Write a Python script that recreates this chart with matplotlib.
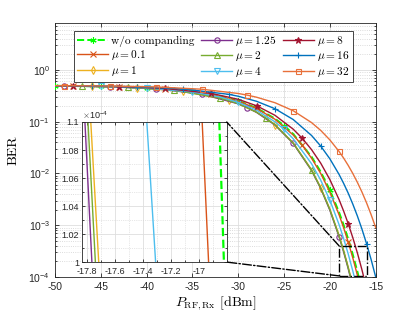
import math
import matplotlib
matplotlib.use("Agg")
import matplotlib.pyplot as plt
from matplotlib.font_manager import FontProperties
from matplotlib.patches import ConnectionPatch, Rectangle
from matplotlib.ticker import FixedLocator, LogLocator, NullFormatter, FuncFormatter, AutoMinorLocator

plt.rcParams['font.family'] = ['Liberation Sans', 'DejaVu Sans']
plt.rcParams['mathtext.fontset'] = 'cm'
plt.rcParams['axes.unicode_minus'] = False

# ---------------- data ----------------
labels = ['w/o companding', r'$\mu = 0.1$', r'$\mu = 1$', r'$\mu = 1.25$', r'$\mu = 2$',
          r'$\mu = 4$', r'$\mu = 8$', r'$\mu = 16$', r'$\mu = 32$']

x_wo = [-50, -45, -40, -35, -32, -30, -28, -26, -25, -24, -22, -21, -20, -19, -18.5, -18, -17.5, -17, -16.5, -16]
y_wo = [0.4927, 0.4812, 0.4523, 0.3849, 0.3140, 0.2526, 0.1835, 0.1148, 0.0841, 0.0577, 0.02098, 0.01075,
        0.004767, 1.780e-3, 1.008e-3, 5.40e-4, 2.71e-4, 1.274e-4, 5.53e-5, 2.21e-5]
mk_wo = [-50, -45, -40, -35, -30, -25, -20]

x_01 = [-50, -48, -43, -38, -33, -30, -28, -26, -24, -23, -22, -21, -20, -19, -18.5, -18, -17.5, -17, -16.5, -16]
y_01 = [0.4926, 0.4891, 0.4721, 0.4304, 0.3380, 0.2492, 0.1799, 0.1116, 0.0553, 0.0347, 0.01973, 0.00997,
        0.004356, 1.596e-3, 8.94e-4, 4.73e-4, 2.345e-4, 1.085e-4, 4.64e-5, 1.82e-5]
mk_01 = [-48, -43, -38, -33, -28, -23, -18]

x_1 = [-50, -46, -41, -36, -31, -30, -28, -26, -24, -22, -21, -20, -19, -18.5, -18, -17.5, -17]
y_1 = [0.4914, 0.4816, 0.4534, 0.3873, 0.2568, 0.2230, 0.1528, 0.0879, 0.0389, 0.01178, 0.00534,
       0.002046, 6.39e-4, 3.26e-4, 1.56e-4, 6.91e-5, 2.83e-5]
mk_1 = [-46, -41, -36, -31, -26, -21]

x_125 = [-50, -49, -44, -39, -34, -30, -29, -28, -26, -24, -22, -21, -20, -19, -18.5, -18, -17.5, -17]
y_125 = [0.4913, 0.4895, 0.4730, 0.4326, 0.3425, 0.2213, 0.1863, 0.1512, 0.0865, 0.0380, 0.01138, 0.00512,
         0.001942, 5.99e-4, 3.04e-4, 1.445e-4, 6.35e-5, 2.58e-5]
mk_125 = [-49, -44, -39, -34, -29, -24, -19]

x_2 = [-50, -47, -42, -37, -32, -30, -28, -27, -26, -24, -22, -21, -20, -19, -18.5, -18, -17.5, -17]
y_2 = [0.4914, 0.4847, 0.4611, 0.4047, 0.2879, 0.2223, 0.1522, 0.1183, 0.0873, 0.0385, 0.01162, 0.00525,
       0.00200, 6.22e-4, 3.17e-4, 1.51e-4, 6.67e-5, 2.72e-5]
mk_2 = [-47, -42, -37, -32, -27, -22, -17]

x_4 = [-50, -45, -40, -35, -32, -30, -28, -26, -25, -24, -22, -21, -20, -19, -18.5, -18, -17.5, -17, -16.5]
y_4 = [0.4920, 0.4794, 0.4479, 0.3753, 0.3002, 0.2364, 0.1665, 0.0996, 0.0708, 0.0468, 0.01543, 0.00741,
       0.00304, 1.032e-3, 5.53e-4, 2.79e-4, 1.31e-4, 5.72e-5, 2.29e-5]
mk_4 = [-45, -40, -35, -30, -25, -20]

x_8 = [-50, -48, -43, -38, -33, -30, -28, -26, -24, -23, -22, -21, -20, -19, -18.5, -18, -17.5, -17, -16.5, -16, -15.5]
y_8 = [0.4934, 0.4904, 0.4753, 0.4380, 0.3539, 0.2704, 0.2028, 0.1330, 0.0716, 0.0474, 0.02881, 0.01578,
       0.00760, 3.13e-3, 1.877e-3, 1.070e-3, 5.76e-4, 2.92e-4, 1.376e-4, 6.02e-5, 2.43e-5]
mk_8 = [-48, -43, -38, -33, -28, -23, -18]

x_16 = [-50, -46, -41, -36, -31, -30, -28, -26, -24, -22, -21, -20, -19, -18.5, -18, -17.5, -17, -16.5, -16, -15.5, -15]
y_16 = [0.4949, 0.4890, 0.4718, 0.4297, 0.3367, 0.3097, 0.2475, 0.1782, 0.1099, 0.0541, 0.0338, 0.01914,
        0.00959, 0.00643, 0.00416, 0.00256, 1.508e-3, 8.40e-4, 4.41e-4, 2.175e-4, 9.98e-5]
mk_16 = [-46, -41, -36, -31, -26, -21, -16]

x_32 = [-50, -49, -44, -39, -34, -30, -29, -28, -26, -24, -22, -21, -20, -19, -18.5, -18, -17.5, -17, -16.5, -16, -15.5, -15]
y_32 = [0.4962, 0.4954, 0.4880, 0.4694, 0.4239, 0.3504, 0.3251, 0.2967, 0.2326, 0.1625, 0.0960, 0.0678,
        0.0444, 0.0266, 0.0198, 0.0143, 0.00999, 0.00674, 0.00437, 0.00271, 0.00160, 9.0e-4]
mk_32 = [-49, -44, -39, -34, -29, -24, -19]

# inset (zoom) data: power at BER = 1.1e-4 and at BER = 1.0e-4
ins_ber = [1.1e-4, 1.0e-4]
ins_wo = [-16.853, -16.82]
ins_01 = [-16.976, -16.93]
ins_1 = [-17.775, -17.718]
ins_125 = [-17.817, -17.767]
ins_2 = [-17.795, -17.742]
ins_4 = [-17.373, -17.31]

x_ticks = [-50, -45, -40, -35, -30, -25, -20, -15]
y_ticks = [1e-4, 1e-3, 1e-2, 1e-1, 1e0]
ins_xticks = [-17.8, -17.6, -17.4, -17.2, -17.0]
ins_xticklabels = ['-17.8', '-17.6', '-17.4', '-17.2', '-17']
ins_yticks = [1.00e-4, 1.02e-4, 1.04e-4, 1.06e-4, 1.08e-4, 1.10e-4]
ins_yticklabels = ['1', '1.02', '1.04', '1.06', '1.08', '1.1']
zoom_box_x = [-19.0, -16.0]
zoom_box_y = [1.05e-4, 4.0e-4]

# ---------------- styles ----------------
C_WO = '#00FF00'
C_01 = '#D95319'
C_1 = '#EDB120'
C_125 = '#7E2F8E'
C_2 = '#77AC30'
C_4 = '#4DBEEE'
C_8 = '#A2142F'
C_16 = '#0072BD'
C_32 = '#E8703A'
ASTER = (6, 2, 0)

series = [
    (x_wo, y_wo, mk_wo, C_WO, '--', ASTER, 'none', 1.4, 4.5),
    (x_01, y_01, mk_01, C_01, '-', 'x', 'none', 1.0, 3.8),
    (x_1, y_1, mk_1, C_1, '-', 'd', 'none', 1.0, 3.8),
    (x_125, y_125, mk_125, C_125, '-', 'o', 'none', 1.0, 3.8),
    (x_2, y_2, mk_2, C_2, '-', '^', 'none', 1.0, 3.8),
    (x_4, y_4, mk_4, C_4, '-', 'v', 'none', 1.0, 3.8),
    (x_8, y_8, mk_8, C_8, '-', '*', C_8, 1.0, 4.8),
    (x_16, y_16, mk_16, C_16, '-', '+', 'none', 1.0, 4.8),
    (x_32, y_32, mk_32, C_32, '-', 's', 'none', 1.0, 3.6),
]

fig = plt.figure(figsize=(4.15, 3.12), dpi=100)
ax = fig.add_axes([0.1325, 0.1122, 0.7728, 0.8131])
ax.set_yscale('log')

handles = []
for (xs, ys, mks, col, ls, mk, mfc, lw, ms), lab in zip(series, labels):
    idx = [xs.index(m) for m in mks]
    h, = ax.plot(xs, ys, color=col, ls=ls, lw=lw, marker=mk, markevery=idx,
                 mfc=mfc, mec=col, ms=ms, mew=0.8, label=lab, zorder=3)
    handles.append(h)

ax.set_xlim(-50, -15)
ax.set_ylim(1e-4, 10 ** 0.9)
ax.xaxis.set_major_locator(FixedLocator(x_ticks))
ax.yaxis.set_major_locator(FixedLocator(y_ticks))
ax.yaxis.set_major_formatter(FuncFormatter(lambda v, p: r'$\mathregular{10^{%d}}$' % round(math.log10(v))))
ax.yaxis.set_minor_locator(LogLocator(base=10, subs=range(2, 10), numticks=20))
ax.yaxis.set_minor_formatter(NullFormatter())
ax.tick_params(which='both', direction='in', top=True, right=True, labelsize=7.5,
               colors='#262626', width=0.6)
ax.tick_params(which='major', length=3)
ax.tick_params(which='minor', length=1.6)
ax.grid(True, which='major', color='#dedede', lw=0.6)
ax.grid(True, which='minor', axis='y', color='#d0d0d0', lw=0.6, ls=':')
for s in ax.spines.values():
    s.set_color('#262626')
    s.set_linewidth(0.6)

ax.set_xlabel(r'$P_{\mathrm{RF,Rx}}$ [dBm]', fontfamily='cmr10', fontsize=10, labelpad=2)
ax.set_ylabel('BER', fontfamily='cmr10', fontsize=10, labelpad=6)

leg_fp = FontProperties(family='cmr10', size=8.2, math_fontfamily='cm')
leg = ax.legend(handles=handles, ncol=3, loc='upper left', bbox_to_anchor=(0.059, 0.97),
                prop=leg_fp, frameon=True, fancybox=False, framealpha=1, edgecolor='#262626',
                handlelength=2.7, handletextpad=0.25, columnspacing=0.6, labelspacing=0.1,
                borderpad=0.3, borderaxespad=0)
leg.get_frame().set_linewidth(0.6)
leg.set_zorder(10)

# zoom box on the main axes
ax.add_patch(Rectangle((zoom_box_x[0], zoom_box_y[0]), zoom_box_x[1] - zoom_box_x[0],
                       zoom_box_y[1] - zoom_box_y[0], fill=False, ec='black', ls='-.', lw=1.0, zorder=4))

# inset
axins = fig.add_axes([0.1969, 0.160, 0.3494, 0.449])
axins.set_facecolor('white')
ins_series = [(ins_wo, C_WO, '--', 1.6), (ins_01, C_01, '-', 1.0), (ins_1, C_1, '-', 1.0),
              (ins_125, C_125, '-', 1.0), (ins_2, C_2, '-', 1.0), (ins_4, C_4, '-', 1.0)]
for xs, col, ls, lw in ins_series:
    axins.plot(xs, ins_ber, color=col, ls=ls, lw=lw)
axins.set_xlim(-17.84, -16.8)
axins.set_ylim(1.0e-4, 1.1e-4)
axins.set_xticks(ins_xticks)
axins.set_xticklabels(ins_xticklabels)
axins.set_yticks(ins_yticks)
axins.set_yticklabels(ins_yticklabels)
axins.xaxis.set_minor_locator(AutoMinorLocator(2))
axins.yaxis.set_minor_locator(AutoMinorLocator(2))
axins.tick_params(which='both', direction='in', top=True, right=True, labelsize=6.5,
                  colors='#262626', width=0.6)
axins.tick_params(axis='x', pad=3.5)
axins.tick_params(axis='y', pad=2)
axins.tick_params(which='major', length=2.5)
axins.tick_params(which='minor', length=1.3)
axins.grid(True, which='major', color='#dedede', lw=0.6)
axins.grid(True, which='minor', color='#d0d0d0', lw=0.5, ls=':')
for s in axins.spines.values():
    s.set_color('#262626')
    s.set_linewidth(0.6)
axins.text(0.0, 1.01, r'$\times\mathregular{10^{-4}}$', transform=axins.transAxes,
           ha='left', va='bottom', fontsize=6.5, color='#262626')

# connection lines
con1 = ConnectionPatch(xyA=(zoom_box_x[0], zoom_box_y[1]), coordsA=ax.transData,
                       xyB=(1, 1), coordsB=axins.transAxes, color='black', ls='-.', lw=1.0)
con2 = ConnectionPatch(xyA=(zoom_box_x[0], zoom_box_y[0]), coordsA=ax.transData,
                       xyB=(1, 0), coordsB=axins.transAxes, color='black', ls='-.', lw=1.0)
fig.add_artist(con1)
fig.add_artist(con2)

fig.savefig('out.png', dpi=100)
